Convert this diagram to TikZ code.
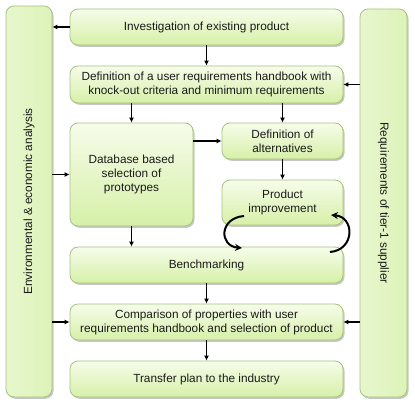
\documentclass[tikz,border=0pt]{standalone}
\usepackage{fontspec}
\setmainfont{Liberation Sans}
\usetikzlibrary{shadows,arrows.meta}
\definecolor{boxtop}{HTML}{F6FCEA}
\definecolor{boxbot}{HTML}{D6F0A8}
\definecolor{boxline}{HTML}{A6C27C}
\definecolor{barfill}{HTML}{DDF3B8}
\definecolor{txt}{HTML}{1A1A1A}
\tikzset{
  box/.style={draw=boxline, line width=0.8pt, rounded corners=8pt,
    top color=boxtop, bottom color=boxbot, inner sep=0pt, align=center,
    text=txt, font=\fontsize{11.8}{14}\selectfont,
    drop shadow={shadow xshift=1.5pt, shadow yshift=-1.8pt, fill=black, opacity=0.22}},
  bar/.style={draw=boxline, line width=0.8pt, rounded corners=8pt,
    left color=barfill!70!white, right color=barfill, inner sep=0pt,
    drop shadow={shadow xshift=1.5pt, shadow yshift=-1.8pt, fill=black, opacity=0.22}},
  bartext/.style={text=txt, font=\fontsize{11.8}{14}\selectfont, inner sep=0pt},
  arr/.style={line width=1.2pt, -{Latex[length=5pt,width=5pt]}},
  loop/.style={line width=2pt, -{Stealth[length=7pt,width=7pt]}}
}
\begin{document}
\begin{tikzpicture}[x=1pt,y=-1pt]
\useasboundingbox (0,0) rectangle (415,409);
\node[bar, minimum width=46pt, minimum height=391pt] (lbar) at (29,201.5) {};
\node[bar, minimum width=47pt, minimum height=388pt] (rbar) at (383.5,203) {};
\node[bartext, rotate=90] (ltext) at (lbar.center) {Environmental \& economic analysis};
\node[bartext, rotate=-90] (rtext) at (rbar.center) {Requirements of tier-1 supplier};

\node[box, minimum width=273pt, minimum height=36pt] (inv) at (206.5,27) {Investigation of existing product};
\node[box, minimum width=273pt, minimum height=37pt] (req) at (206.5,84.5) {Definition of a user requirements handbook with\\knock-out criteria and minimum requirements};
\node[box, minimum width=123pt, minimum height=103pt] (db) at (131.5,174.5) {Database based\\selection of\\prototypes};
\node[box, minimum width=121pt, minimum height=36pt] (alt) at (282.5,141) {Definition of\\alternatives};
\node[box, minimum width=121pt, minimum height=45pt] (imp) at (282.5,202.5) {Product\\improvement};
\node[box, minimum width=273pt, minimum height=36pt] (bench) at (206.5,265) {Benchmarking};
\node[box, minimum width=273pt, minimum height=36pt] (comp) at (206.5,322) {Comparison of properties with user\\requirements handbook and selection of product};
\node[box, minimum width=273pt, minimum height=36pt] (trans) at (206.5,379) {Transfer plan to the industry};

\draw[arr] (inv.west) -- (inv.west -| lbar.east);
\draw[arr] (inv.south) -- (req.north);
\draw[arr] (rbar.west |- req.east) -- (req.east);
\draw[arr] (req.south -| db.north) -- (db.north);
\draw[arr] (req.south -| alt.north) -- (alt.north);
\draw[arr] (db.east |- alt.west) -- (alt.west);
\draw[arr] (lbar.east |- db.west) -- (db.west);
\draw[arr] (alt.south) -- (imp.north);
\draw[arr] (db.south) -- (db.south |- bench.north);
\draw[arr] (bench.south) -- (comp.north);
\draw[arr] (lbar.east |- comp.west) -- (comp.west);
\draw[arr] (rbar.west |- comp.east) -- (comp.east);
\draw[arr] (comp.south) -- (trans.north);

\coordinate (la) at (244,216);
\coordinate (lb) at (242,248);
\coordinate (ra) at (330,252);
\coordinate (rb) at (331,215);
\draw[loop] (la) .. controls (219,218) and (219,246) .. (lb);
\draw[loop] (ra) .. controls (355,250) and (355,217) .. (rb);
\end{tikzpicture}
\end{document}
